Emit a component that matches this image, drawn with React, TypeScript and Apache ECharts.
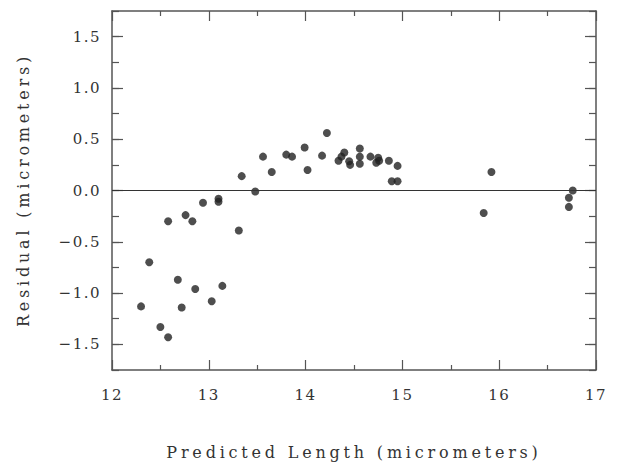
import React, { useEffect, useRef } from "react";
import * as echarts from "echarts";

const predicted: number[] = [
  12.3, 12.385, 12.5, 12.58, 12.58, 12.68, 12.72, 12.76, 12.83, 12.86,
  12.94, 13.03, 13.1, 13.1, 13.14, 13.31, 13.34, 13.48, 13.56, 13.65,
  13.8, 13.86, 13.99, 14.02, 14.17, 14.22, 14.34, 14.37, 14.4, 14.45,
  14.46, 14.56, 14.56, 14.56, 14.67, 14.73, 14.75, 14.76, 14.86, 14.95,
  14.89, 14.95, 15.84, 15.92, 16.72, 16.72, 16.76,
];
const residual: number[] = [
  -1.13, -0.7, -1.33, -1.43, -0.3, -0.87, -1.14, -0.24, -0.3, -0.96,
  -0.12, -1.08, -0.08, -0.11, -0.93, -0.39, 0.14, -0.01, 0.33, 0.18,
  0.35, 0.33, 0.42, 0.2, 0.34, 0.56, 0.29, 0.33, 0.37, 0.285,
  0.25, 0.41, 0.33, 0.26, 0.33, 0.27, 0.32, 0.29, 0.29, 0.24,
  0.09, 0.09, -0.22, 0.18, -0.16, -0.07, 0.0,
];
const yMajorTicks: number[] = [-1.5, -1.0, -0.5, 0.0, 0.5, 1.0, 1.5];
const xTitle = "Predicted Length (micrometers)";
const yTitle = "Residual (micrometers)";

const FONT = "DejaVu Serif";
const INK = "#333";
const FRAME = "#555";

export default function App() {
  const ref = useRef<HTMLDivElement>(null);
  useEffect(() => {
    if (!ref.current) return;
    const chart = echarts.init(ref.current, undefined, { renderer: "svg" });
    const pts = predicted.map((x, i) => [x, residual[i]]);
    const xCommon = {
      type: "value" as const,
      min: 12,
      max: 17,
      interval: 1,
      axisLine: { show: true, onZero: false, lineStyle: { color: FRAME, width: 1.5 } },
      axisTick: { show: true, inside: true, length: 10, lineStyle: { color: FRAME, width: 1.2 } },
      minorTick: { show: true, splitNumber: 2, length: 5, lineStyle: { color: FRAME, width: 1.2 } },
      splitLine: { show: false },
      minorSplitLine: { show: false },
    };
    const yMinor = (position: "left" | "right", labels: boolean) => ({
      type: "value" as const,
      position,
      min: -1.75,
      max: 1.75,
      interval: 0.25,
      axisLine: { show: true, onZero: false, lineStyle: { color: FRAME, width: 1.5 } },
      axisTick: { show: true, inside: true, length: 7, lineStyle: { color: FRAME, width: 1.2 } },
      splitLine: { show: false },
      axisLabel: labels
        ? {
            show: true,
            customValues: yMajorTicks,
            margin: 11,
            color: INK,
            fontFamily: FONT,
            fontSize: 15,
            formatter: (v: number) => {
              const s = Math.abs(v).toFixed(1);
              return v < 0 ? "\u2212" + s : s;
            },
          }
        : { show: false },
    });
    const yMajor = (position: "left" | "right") => ({
      type: "value" as const,
      position,
      min: -1.75,
      max: 1.75,
      interval: 0.25,
      axisLine: { show: false, onZero: false },
      axisTick: {
        show: true,
        inside: true,
        length: 11,
        customValues: yMajorTicks,
        lineStyle: { color: FRAME, width: 1.2 },
      },
      splitLine: { show: false },
      axisLabel: { show: false },
    });
    chart.setOption({
      animation: false,
      backgroundColor: "#fff",
      grid: { left: 112, right: 24, top: 11, bottom: 94 },
      xAxis: [
        {
          ...xCommon,
          position: "bottom",
          axisLabel: { show: true, margin: 17, color: INK, fontFamily: FONT, fontSize: 15 },
        },
        { ...xCommon, position: "top", axisLabel: { show: false } },
      ],
      yAxis: [yMinor("left", true), yMinor("right", false), yMajor("left"), yMajor("right")],
      graphic: [
        {
          type: "text",
          x: 354,
          y: 452,
          style: {
            text: xTitle,
            fill: INK,
            font: `16px "${FONT}"`,
            align: "center",
            verticalAlign: "middle",
          },
        },
        {
          type: "text",
          x: 23,
          y: 190,
          rotation: Math.PI / 2,
          style: {
            text: yTitle,
            fill: INK,
            font: `16px "${FONT}"`,
            align: "center",
            verticalAlign: "middle",
          },
        },
      ],
      series: [
        {
          type: "scatter",
          xAxisIndex: 0,
          yAxisIndex: 0,
          data: pts,
          symbol: "circle",
          symbolSize: 8,
          itemStyle: { color: "#222" },
          markLine: {
            silent: true,
            symbol: "none",
            label: { show: false },
            lineStyle: { color: "#333", width: 1.2, type: "solid" },
            data: [{ yAxis: 0 }],
          },
        },
      ],
    });
    return () => chart.dispose();
  }, []);
  return (
    <>
      <style>{`
        #chart text { letter-spacing: 1.5px; }
        #chart text[style*="16px"] { letter-spacing: 3.8px; }
      `}</style>
      <div
        id="chart"
        ref={ref}
        style={{ position: "fixed", left: 0, top: 0, width: 620, height: 464, background: "#fff" }}
      />
    </>
  );
}
